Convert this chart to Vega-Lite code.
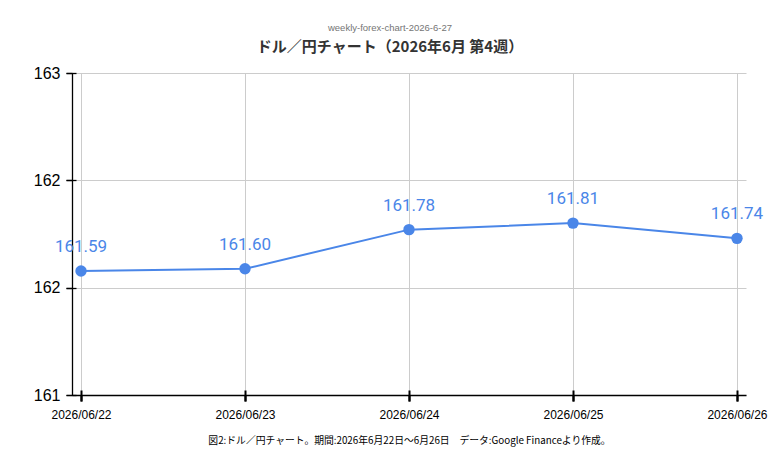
{
  "$schema": "https://vega.github.io/schema/vega-lite/v6.json",
  "autosize": "none",
  "padding": {"left": 72, "top": 73, "right": 33, "bottom": 73},
  "width": 674,
  "height": 322,
  "background": "white",
  "title": {
    "text": "weekly-forex-chart-2026-6-27",
    "subtitle": "ドル／円チャート（2026年6月 第4週）",
    "anchor": "middle",
    "dx": -19,
    "offset": 10,
    "font": "Liberation Sans",
    "fontSize": 9.5,
    "fontWeight": "normal",
    "color": "#757575",
    "subtitleFont": "Noto Sans CJK JP",
    "subtitleFontSize": 15,
    "subtitleFontWeight": "bold",
    "subtitleColor": "#333333",
    "subtitlePadding": 8
  },
  "data": {
    "values": [
      {"date": "2026/06/22", "rate": 161.59},
      {"date": "2026/06/23", "rate": 161.60},
      {"date": "2026/06/24", "rate": 161.78},
      {"date": "2026/06/25", "rate": 161.81},
      {"date": "2026/06/26", "rate": 161.74}
    ]
  },
  "config": {
    "view": {"stroke": null},
    "axis": {"gridColor": "#cccccc", "gridWidth": 1, "domainColor": "#000000", "tickColor": "#000000"}
  },
  "layer": [
    {
      "mark": {"type": "line", "color": "#4a86e8", "strokeWidth": 2},
      "encoding": {
        "x": {
          "field": "date", "type": "ordinal",
          "scale": {"type": "point", "padding": 0.055},
          "axis": {
            "title": "図2:ドル／円チャート。期間:2026年6月22日～6月26日　データ:Google Financeより作成。",
            "titleFont": "Noto Sans CJK JP", "titleFontSize": 9.8, "titleFontWeight": "normal",
            "titleColor": "#000000", "titlePadding": 15,
            "labelAngle": 0, "labelFont": "Liberation Sans", "labelFontSize": 12,
            "labelColor": "#000000", "labelPadding": 8,
            "domainWidth": 1.3, "ticks": true, "tickSize": 6, "tickWidth": 2, "grid": true
          }
        },
        "y": {
          "field": "rate", "type": "quantitative",
          "scale": {"domain": [161.02, 162.5], "nice": false, "zero": false},
          "axis": {
            "title": null, "values": [161.02, 161.5133, 162.0067, 162.5], "format": ".0f", "labelOverlap": false,
            "labelFont": "Liberation Sans", "labelFontSize": 16, "labelColor": "#000000",
            "labelPadding": 6, "domainWidth": 1.3, "ticks": true, "tickSize": 6, "tickWidth": 1.3, "grid": true
          }
        }
      }
    },
    {
      "mark": {"type": "point", "filled": true, "color": "#4a86e8", "opacity": 1, "size": 130},
      "encoding": {
        "x": {
          "field": "date", "type": "ordinal",
          "scale": {"type": "point", "padding": 0.055},
          "axis": {"orient": "bottom", "title": null, "labels": false, "domain": false, "grid": false,
                   "ticks": true, "tickSize": 11, "tickWidth": 2, "offset": -5}
        },
        "y": {
          "field": "rate", "type": "quantitative",
          "scale": {"domain": [161.02, 162.5], "nice": false, "zero": false},
          "axis": {"orient": "left", "title": null, "labels": false, "domain": false, "grid": false,
                   "values": [161.02, 161.5133, 162.0067, 162.5], "ticks": true, "tickSize": 10, "tickWidth": 1.3, "offset": -4}
        }
      }
    },
    {
      "mark": {"type": "text", "color": "#4a86e8", "font": "Roboto", "fontSize": 17, "baseline": "middle", "dy": -24},
      "encoding": {
        "x": {"field": "date", "type": "ordinal", "scale": {"type": "point", "padding": 0.055}, "axis": null},
        "y": {"field": "rate", "type": "quantitative", "scale": {"domain": [161.02, 162.5], "nice": false, "zero": false}, "axis": null},
        "text": {"field": "rate", "type": "quantitative", "format": ".2f"}
      }
    }
  ],
  "resolve": {"axis": {"x": "independent", "y": "independent"}}
}
